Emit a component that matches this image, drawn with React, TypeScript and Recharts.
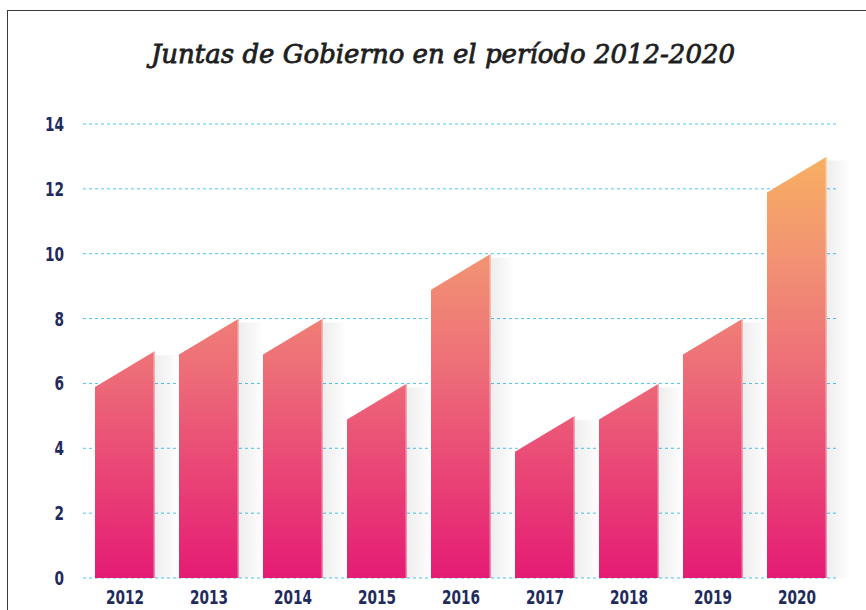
import React from "react";
import { BarChart, Bar, XAxis, YAxis, CartesianGrid } from "recharts";

const years = ["2012", "2013", "2014", "2015", "2016", "2017", "2018", "2019", "2020"];
const juntas = [7, 8, 8, 6, 10, 5, 6, 8, 13];
const yTicks = [0, 2, 4, 6, 8, 10, 12, 14];
const title = "Juntas de Gobierno en el período 2012-2020";

const data = years.map((y, i) => ({ year: y, juntas: juntas[i] }));

const PLOT_TOP = 124;
const PLOT_BOTTOM = 578;

const SlantBar = (props: any) => {
  const { x, y, width, height } = props;
  if (height <= 0) return null;
  const drop = Math.min(36, height);
  const bottom = y + height;
  const pts = `${x},${y + drop} ${x + width},${y} ${x + width},${bottom} ${x},${bottom}`;
  return (
    <g>
      <rect x={x + width} y={y + 4} width={24} height={height - 4} fill="url(#shadowGrad)" />
      <polygon points={pts} fill="url(#barGrad)" />
      <rect x={x + width - 1.5} y={y} width={1.5} height={height} fill="#ffffff" fillOpacity={0.45} />
    </g>
  );
};

const labelFont = "'DejaVu Sans Condensed', 'DejaVu Sans', sans-serif";

const XTick = (props: any) => {
  const { x, payload } = props;
  return (
    <text
      transform={`translate(${x},604) scale(0.8,1)`}
      textAnchor="middle"
      fill="#1f2b5c"
      fontFamily={labelFont}
      fontWeight={700}
      fontSize={19}
    >
      {payload.value}
    </text>
  );
};

const YTick = (props: any) => {
  const { y, payload } = props;
  return (
    <text
      transform={`translate(64,${y + 7}) scale(0.8,1)`}
      textAnchor="end"
      fill="#1f2b5c"
      fontFamily={labelFont}
      fontWeight={700}
      fontSize={19}
    >
      {payload.value}
    </text>
  );
};

export default function App() {
  return (
    <div style={{ position: "absolute", left: 0, top: 0, width: 866, height: 610, background: "#fff", overflow: "hidden" }}>
      <div
        style={{
          position: "absolute",
          left: 7,
          top: 10,
          width: 880,
          height: 620,
          borderTop: "1.5px solid #3a3a3a",
          borderLeft: "1.5px solid #3a3a3a",
        }}
      />
      <div
        style={{
          position: "absolute",
          left: 0,
          width: 886,
          top: 39,
          textAlign: "center",
          fontFamily: "'DejaVu Serif', serif",
          fontStyle: "italic",
          fontWeight: 400,
          fontSize: 26,
          color: "#1e1e1e",
          WebkitTextStroke: "0.8px #1e1e1e",
        }}
      >
        {title}
      </div>
      <div style={{ position: "absolute", left: 0, top: 0 }}>
        <BarChart
          width={866}
          height={610}
          data={data}
          margin={{ top: PLOT_TOP, right: 27, bottom: 2, left: 43 }}
          barSize={60}
        >
          <defs>
            <linearGradient id="barGrad" gradientUnits="userSpaceOnUse" x1="0" y1={PLOT_TOP} x2="0" y2={PLOT_BOTTOM}>
              <stop offset="0" stopColor="#fab85c" />
              <stop offset="0.3" stopColor="#f29273" />
              <stop offset="0.55" stopColor="#ed6c78" />
              <stop offset="1" stopColor="#e51b74" />
            </linearGradient>
            <linearGradient id="shadowGrad" x1="0" y1="0" x2="1" y2="0">
              <stop offset="0" stopColor="#000" stopOpacity={0.07} />
              <stop offset="0.6" stopColor="#000" stopOpacity={0.03} />
              <stop offset="1" stopColor="#000" stopOpacity={0} />
            </linearGradient>
          </defs>
          <CartesianGrid vertical={false} stroke="#4fc3f0" strokeDasharray="3 3" strokeWidth={1} />
          <XAxis
            dataKey="year"
            height={30}
            axisLine={false}
            tickLine={false}
            interval={0}
            tick={<XTick />}
          />
          <YAxis
            domain={[0, 14]}
            ticks={yTicks}
            width={40}
            axisLine={false}
            tickLine={false}
            tick={<YTick />}
          />
          <Bar dataKey="juntas" shape={<SlantBar />} isAnimationActive={false} />
        </BarChart>
      </div>
    </div>
  );
}
